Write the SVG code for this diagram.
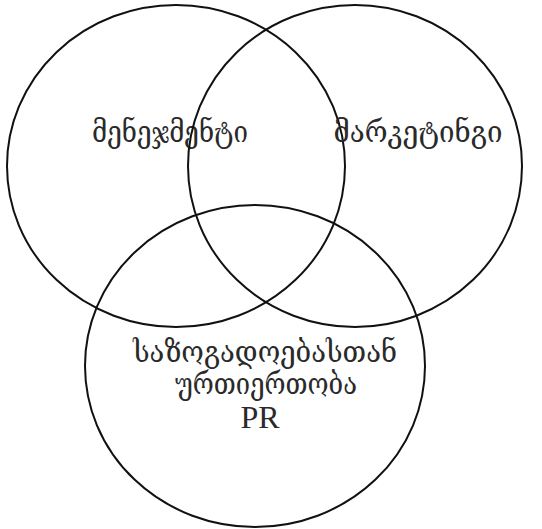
<svg xmlns="http://www.w3.org/2000/svg" width="542" height="529" viewBox="0 0 542 529">
<style>
.c{fill:none;stroke:#111;stroke-width:2}
.t{font-family:"DejaVu Serif","Noto Sans",serif;font-size:29px;fill:#2a2a2a;text-anchor:middle}
.l{font-family:"Liberation Serif",serif;font-size:32px;fill:#2a2a2a;text-anchor:middle}
</style>
<rect width="542" height="529" fill="#fff"/>
<g id="management">
<ellipse class="c" cx="176" cy="166" rx="169" ry="161"/>
<text class="t" x="170" y="142" textLength="156" lengthAdjust="spacingAndGlyphs">მენეჯმენტი</text>
</g>
<g id="marketing">
<ellipse class="c" cx="355" cy="166" rx="167" ry="161"/>
<text class="t" x="418" y="142" textLength="169" lengthAdjust="spacingAndGlyphs">მარკეტინგი</text>
</g>
<g id="pr">
<ellipse class="c" cx="255" cy="366" rx="170" ry="161"/>
<text class="t" x="265" y="362" textLength="264" lengthAdjust="spacingAndGlyphs">საზოგადოებასთან</text>
<text class="t" x="266" y="394" textLength="182" lengthAdjust="spacingAndGlyphs">ურთიერთობა</text>
<text class="l" x="260" y="428">PR</text>
</g>
<g id="connectors"></g>
</svg>
